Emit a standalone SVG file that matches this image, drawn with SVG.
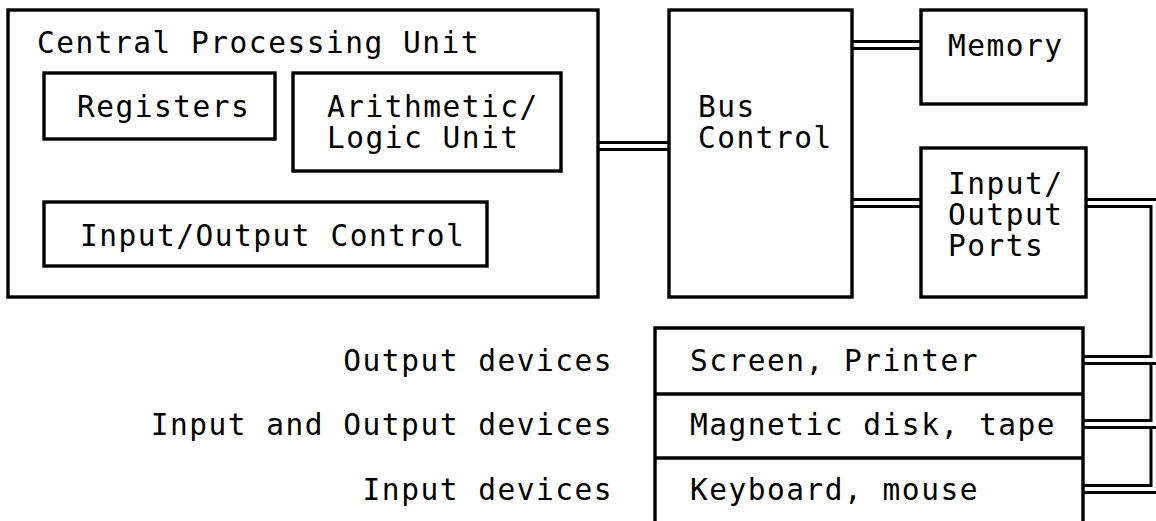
<svg xmlns="http://www.w3.org/2000/svg" width="1156" height="521" viewBox="0 0 1156 521">
<style>
.box{fill:none;stroke:#000;stroke-width:3.4}
.t{font-family:"DejaVu Sans Mono","Liberation Mono",monospace;font-size:29.5px;letter-spacing:1.5px;fill:#000}
.e{text-anchor:end}
.w{fill:none;stroke:#000;stroke-width:3}
</style>
<rect width="1156" height="521" fill="#fff"/>
<g id="cpu">
<rect class="box" x="8" y="10" width="590" height="287"/>
<text class="t" x="37" y="53">Central Processing Unit</text>
</g>
<g id="registers">
<rect class="box" x="44" y="73" width="231" height="66"/>
<text class="t" x="77" y="117">Registers</text>
</g>
<g id="alu">
<rect class="box" x="293" y="73" width="268" height="98"/>
<text class="t" x="327" y="117">Arithmetic/</text>
<text class="t" x="327" y="148">Logic Unit</text>
</g>
<g id="io-control">
<rect class="box" x="44" y="202" width="443" height="64"/>
<text class="t" x="80" y="246">Input/Output Control</text>
</g>
<g id="bus-control">
<rect class="box" x="669" y="10" width="183" height="287"/>
<text class="t" x="698" y="117">Bus</text>
<text class="t" x="698" y="148">Control</text>
</g>
<g id="memory">
<rect class="box" x="921" y="10" width="165" height="94"/>
<text class="t" x="948" y="56">Memory</text>
</g>
<g id="io-ports">
<rect class="box" x="921" y="148" width="165" height="149"/>
<text class="t" x="948" y="194">Input/</text>
<text class="t" x="948" y="225">Output</text>
<text class="t" x="948" y="256">Ports</text>
</g>
<g id="devices">
<path class="box" d="M655,525 V328 H1083 V525 M655,394 H1083 M655,458 H1083"/>
<text class="t" x="690" y="371">Screen, Printer</text>
<text class="t" x="690" y="435">Magnetic disk, tape</text>
<text class="t" x="690" y="500">Keyboard, mouse</text>
</g>
<g id="labels">
<text class="t e" x="613" y="371">Output devices</text>
<text class="t e" x="613" y="435">Input and Output devices</text>
<text class="t e" x="613" y="500">Input devices</text>
</g>
<g id="connectors">
<path class="w" d="M598,142.5 H669 M598,149.5 H669"/>
<path class="w" d="M852,41.5 H921 M852,48.5 H921"/>
<path class="w" d="M852,199.5 H921 M852,206.5 H921"/>
<path class="w" d="M1086,199.5 H1157"/>
<path class="w" d="M1086,206.5 H1151 V356.5 H1083"/>
<path class="w" d="M1083,363.5 H1157 M1151,363.5 V420.5 H1083"/>
<path class="w" d="M1083,427.5 H1157 M1151,427.5 V485.5 H1083"/>
<path class="w" d="M1083,492.5 H1157"/>
</g>
</svg>
